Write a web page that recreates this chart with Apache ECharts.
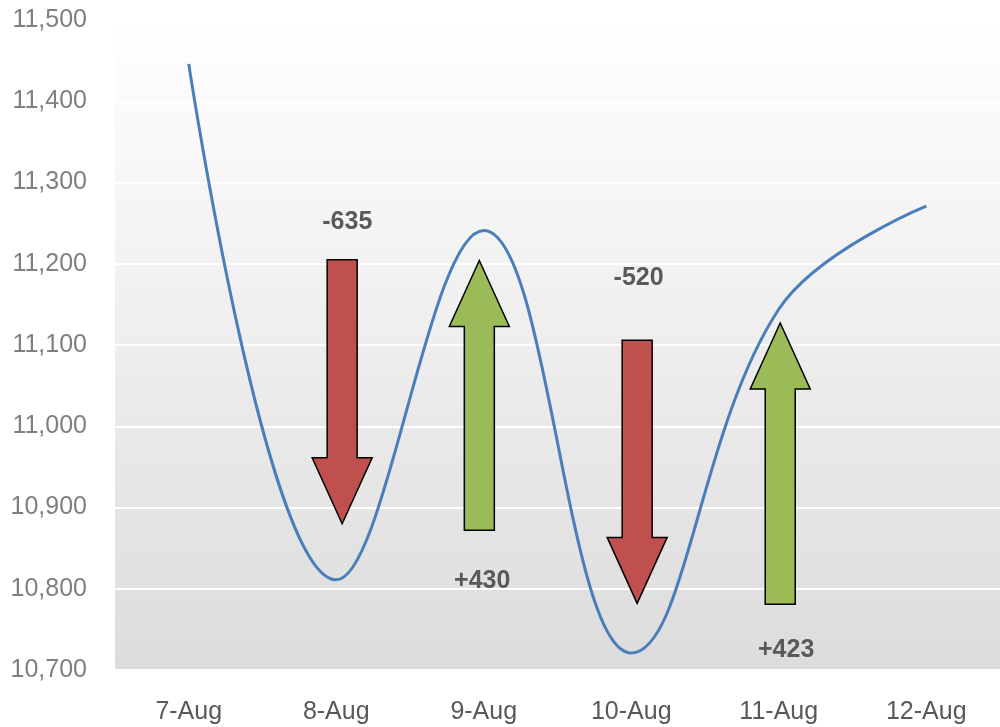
<!DOCTYPE html>
<html>
<head>
<meta charset="utf-8">
<script src="https://cdn.jsdelivr.net/npm/echarts@6/dist/echarts.min.js"></script>
<style>
  html, body { margin: 0; padding: 0; background: #fff; }
  #chart { width: 1000px; height: 727px; }
</style>
</head>
<body>
<div id="chart"></div>
<script>
  // daily closing level
  const days = ['7-Aug', '8-Aug', '9-Aug', '10-Aug', '11-Aug', '12-Aug'];
  const closes = [11446, 10811, 11241, 10721, 11144, 11271];

  // arrows: position in day units, from value, to value
  const arrowX = [1.04, 1.97, 3.04, 4.01];
  const arrowFrom = [11205, 10872, 11106, 10781];
  const arrowTo = [10880, 11204, 10782, 11127];

  // change labels
  const changeText = ['-635', '+430', '-520', '+423'];
  const changeX = [1.075, 1.99, 3.05, 4.05];
  const changeAt = [11251, 10810, 11182, 10725];

  const yTicks = { min: 10700, max: 11500, interval: 100 };

  const arrowData = arrowX.map((x, i) => [x, arrowFrom[i], arrowTo[i]]);
  const labelData = changeX.map((x, i) => [x, changeAt[i], changeText[i]]);

  const chart = echarts.init(document.getElementById('chart'));

  const font = 'Liberation Sans, Arial, sans-serif';

  const option = {
    animation: false,
    grid: {
      left: 115,
      top: 20,
      width: 897,
      height: 650,
      show: true,
      borderWidth: 0,
      backgroundColor: new echarts.graphic.LinearGradient(0, 0, 0, 1, [
        { offset: 0, color: '#ffffff' },
        { offset: 0.06, color: '#fdfdfd' },
        { offset: 1, color: '#dcdcdc' }
      ])
    },
    xAxis: [
      {
        type: 'category',
        data: days,
        boundaryGap: true,
        axisLine: { show: false },
        axisTick: { show: false },
        axisLabel: { color: '#595959', fontSize: 25, fontFamily: font, margin: 30 },
        splitLine: { show: false }
      },
      {
        // same days as a continuous scale, for the arrows and their labels
        type: 'value',
        min: -0.5,
        max: days.length - 0.5,
        show: false
      }
    ],
    yAxis: {
      type: 'value',
      min: yTicks.min,
      max: yTicks.max,
      interval: yTicks.interval,
      axisLine: { show: false },
      axisTick: { show: false },
      axisLabel: {
        color: '#7f7f7f',
        fontSize: 25,
        fontFamily: font,
        margin: 28,
        formatter: v => v.toLocaleString('en-US')
      },
      splitLine: { lineStyle: { color: '#ffffff', width: 2 } }
    },
    series: [
      {
        type: 'line',
        data: closes,
        smooth: 0.4,
        symbol: 'none',
        z: 2,
        lineStyle: { color: '#4a7ebb', width: 3 }
      },
      {
        type: 'custom',
        xAxisIndex: 1,
        data: arrowData,
        z: 3,
        renderItem: function (params, api) {
          const p1 = api.coord([api.value(0), api.value(1)]);
          const p2 = api.coord([api.value(0), api.value(2)]);
          const x = p1[0];
          const dir = p2[1] > p1[1] ? 1 : -1;
          const headLen = 66, shaft = 15, head = 30;
          const yb = p2[1] - dir * headLen;
          return {
            type: 'polygon',
            shape: {
              points: [
                [x - shaft, p1[1]], [x + shaft, p1[1]], [x + shaft, yb],
                [x + head, yb], [x, p2[1]], [x - head, yb], [x - shaft, yb]
              ]
            },
            style: {
              fill: dir < 0 ? '#9bbb59' : '#c0504d',
              stroke: '#000',
              lineWidth: 1.5
            }
          };
        }
      },
      {
        type: 'custom',
        xAxisIndex: 1,
        data: labelData,
        z: 4,
        renderItem: function (params, api) {
          const p = api.coord([api.value(0), api.value(1)]);
          return {
            type: 'text',
            x: p[0],
            y: p[1],
            style: {
              text: labelData[params.dataIndex][2],
              fill: '#595959',
              font: 'bold 25px "Liberation Sans", Arial, sans-serif',
              align: 'center',
              verticalAlign: 'middle'
            }
          };
        }
      }
    ]
  };

  chart.setOption(option);
</script>
</body>
</html>
